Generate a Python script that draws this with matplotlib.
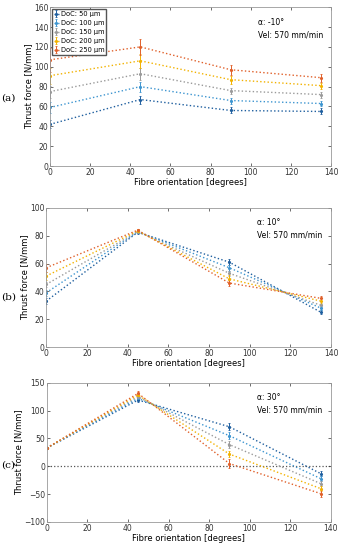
import numpy as np
import matplotlib.pyplot as plt

# Fibre orientation (degrees)
orient = [0, 45, 90, 135]
doc_labels = ['DoC: 50 μm', 'DoC: 100 μm', 'DoC: 150 μm', 'DoC: 200 μm', 'DoC: 250 μm']
colors = ['#1f5f9f', '#3d95d0', '#9a9a9a', '#f2b200', '#e0602a']

# (a) rake angle -10 deg
force_a = [[42, 67, 56, 55],
           [59, 80, 66, 63],
           [75, 93, 76, 72],
           [91, 106, 87, 81],
           [107, 120, 97, 89]]
err_a = [[4, 4, 3, 3],
         [6, 5, 3, 3],
         [6, 6, 3, 3],
         [8, 7, 4, 3],
         [12, 8, 5, 4]]

# (b) rake angle 10 deg
force_b = [[33, 82.5, 61, 25],
           [39, 83, 57, 28],
           [45, 83, 53, 30],
           [51, 83.5, 49, 33],
           [57, 84, 46, 35]]
err_b = [[2, 1, 2, 1.5],
         [2, 1, 2, 1.5],
         [2, 1, 2, 1.5],
         [3, 1, 3, 2],
         [3, 1, 2, 2]]

# (c) rake angle 30 deg
force_c = [[33, 119, 71, -13],
           [33, 122, 55, -22],
           [33, 125, 39, -31],
           [33, 128, 22, -40],
           [33, 131, 5, -49]]
err_c = [[1, 4, 6, 4],
         [1, 4, 6, 4],
         [1, 4, 6, 4],
         [1, 4, 6, 4],
         [1, 4, 8, 6]]

# rect = [left, bottom, width, height]; tag_y in figure fraction
panels = [
    ('(a)', force_a, err_a, (0, 160), [0, 20, 40, 60, 80, 100, 120, 140, 160], 'α: -10°', [0.146, 0.698, 0.822, 0.289], 0.822),
    ('(b)', force_b, err_b, (0, 100), [0, 20, 40, 60, 80, 100], 'α: 10°', [0.135, 0.369, 0.833, 0.253], 0.460),
    ('(c)', force_c, err_c, (-100, 150), [-100, -50, 0, 50, 100, 150], 'α: 30°', [0.137, 0.051, 0.830, 0.253], 0.155),
]

fig = plt.figure(figsize=(3.42, 5.5), dpi=100)
plt.rcParams['font.family'] = 'DejaVu Sans'

for tag, force, err, ylim, yticks, alpha_txt, rect, tag_y in panels:
    ax = fig.add_axes(rect)
    if tag == '(c)':
        ax.axhline(0, color='#555555', ls=':', lw=0.9, zorder=0)
    for i in range(len(doc_labels)):
        ax.errorbar(orient, force[i], yerr=err[i], color=colors[i], ls=':', lw=1.0,
                    marker='.', ms=2.5, elinewidth=0.7, capsize=1.0, capthick=0.6,
                    label=doc_labels[i])
    ax.set_xlim(0, 140)
    ax.set_ylim(*ylim)
    ax.set_xticks([0, 20, 40, 60, 80, 100, 120, 140])
    ax.set_yticks(yticks)
    ax.tick_params(labelsize=5.5, direction='in', length=2, top=True, right=True, pad=1.2, width=0.5,
                   colors='#333333')
    for s in ax.spines.values():
        s.set_color('#999999')
        s.set_linewidth(0.6)
    ax.set_xlabel('Fibre orientation [degrees]', fontsize=6, labelpad=1)
    ax.set_ylabel('Thrust force [N/mm]', fontsize=6, labelpad=0.5)
    ax.text(0.74, 0.93, alpha_txt + '\nVel: 570 mm/min', transform=ax.transAxes,
            fontsize=5.5, va='top', ha='left', linespacing=1.5)
    fig.text(0.004, tag_y, tag, fontsize=7.5, family='DejaVu Serif', va='center')
    if tag == '(a)':
        ax.legend(loc='upper left', fontsize=4.8, frameon=True, handlelength=0.7,
                  handletextpad=0.3, borderpad=0.3, labelspacing=0.45, borderaxespad=0.3,
                  fancybox=False, edgecolor='#555555', framealpha=1)

fig.savefig('out.png', dpi=100)
